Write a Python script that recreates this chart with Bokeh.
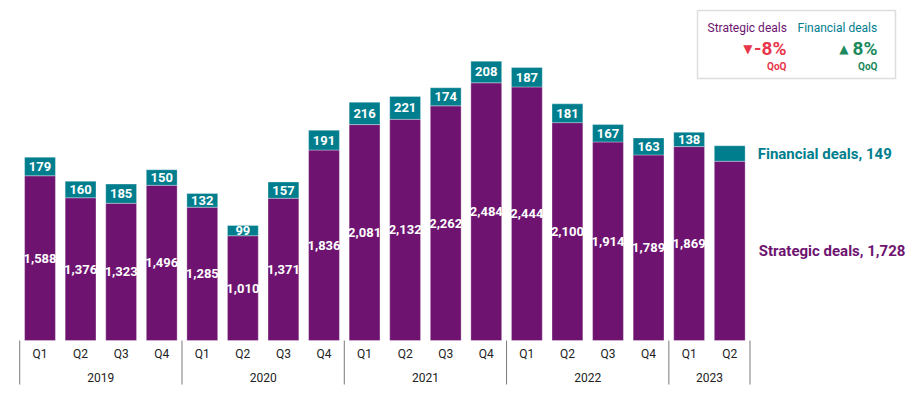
from bokeh.plotting import figure
from bokeh.models import ColumnDataSource, FactorRange, Range1d, Label
from bokeh.core.properties import value
from bokeh.embed import file_html
from bokeh.resources import INLINE

years = ["2019"] * 4 + ["2020"] * 4 + ["2021"] * 4 + ["2022"] * 4 + ["2023"] * 2
quarters = ["Q1", "Q2", "Q3", "Q4"] * 4 + ["Q1", "Q2"]
strategic = [1588, 1376, 1323, 1496, 1285, 1010, 1371, 1836, 2081, 2132,
             2262, 2484, 2444, 2100, 1914, 1789, 1869, 1728]
financial = [179, 160, 185, 150, 132, 99, 157, 191, 216, 221,
             174, 208, 187, 181, 167, 163, 138, 149]
year_labels = ["2019", "2020", "2021", "2022", "2023"]
legend_names = ["Strategic deals", "Financial deals"]
qoq_change = ["-8%", "8%"]

PURPLE = "#6e1470"
TEAL = "#007e8e"
RED = "#e8374c"
GREEN = "#1b8a5c"
FONT = "Roboto"
GRAY = "#7a7a7a"

factors = list(zip(years, quarters))
# empty space to the right of the bars (for the series labels and the legend box)
spacer = [("", " " * (i + 1)) for i in range(4)]
totals = [s + f for s, f in zip(strategic, financial)]

# ---- layout constants (pixels) ----
FW, FH, LEFT = 895, 394, 18
PAD = 0.03
SPAN = len(factors) + len(spacer) + 2 * PAD
Y0, Y1 = -520, 3277

def xp(px):  # page x -> synthetic x
    return -PAD + (px - LEFT) / FW * SPAN

def yp(py):  # page y -> data y
    return Y1 - py / FH * (Y1 - Y0)

src = ColumnDataSource(dict(x=factors, s=strategic, t=totals))
n = len(factors) - 1
lab = ColumnDataSource(dict(
    x=factors[:n],
    smid=[s / 2 for s in strategic[:n]],
    fmid=[s + f / 2 for s, f in zip(strategic[:n], financial[:n])],
    slab=[f"{s:,}" for s in strategic[:n]],
    flab=[str(f) for f in financial[:n]],
))

p = figure(
    x_range=FactorRange(*(factors + spacer), factor_padding=0, group_padding=0,
                        range_padding=PAD, range_padding_units="absolute"),
    y_range=Range1d(Y0, Y1),
    frame_width=FW, frame_height=FH,
    min_border_left=LEFT, min_border_right=0, min_border_top=0, min_border_bottom=0,
    output_backend="svg", toolbar_location=None, y_axis_location=None,
)
p.outline_line_color = None
p.xgrid.grid_line_color = None
p.ygrid.grid_line_color = None

p.vbar(x="x", top="s", bottom=0, width=0.76, source=src, fill_color=PURPLE,
       line_color="white", line_alpha=0.4, line_width=0.8)
p.vbar(x="x", top="t", bottom="s", width=0.76, source=src, fill_color=TEAL,
       line_color="white", line_alpha=0.4, line_width=0.8)

p.text(x="x", y="smid", text="slab", source=lab, text_color="white",
       text_font=value(FONT), text_font_style="bold", text_font_size="13px",
       text_align="center", text_baseline="middle")
p.text(x="x", y="fmid", text="flab", source=lab, text_color="white",
       text_font=value(FONT), text_font_style="bold", text_font_size="13px",
       text_align="center", text_baseline="middle")

ax = p.xaxis[0]
ax.fixed_location = 0
ax.axis_line_color = None
ax.major_tick_line_color = None
ax.major_tick_out = 0
ax.major_tick_in = 0
ax.minor_tick_line_color = None
ax.major_label_standoff = 6
ax.major_label_text_font = FONT
ax.major_label_text_font_size = "12px"
ax.major_label_text_color = "#222222"
ax.group_text_color = None
ax.separator_line_color = None

# year group labels and separators (positions from the category counts)
bounds = [0]
for yl in year_labels:
    bounds.append(bounds[-1] + years.count(yl))
centers = [(a + b) / 2 for a, b in zip(bounds[:-1], bounds[1:])]
p.text(x=centers, y=[yp(377)] * len(centers), text=year_labels,
       text_font=value(FONT), text_font_size="12px", text_color="#222222",
       text_align="center", text_baseline="middle")
p.segment(x0=bounds, y0=[0] * len(bounds), x1=bounds, y1=[yp(384)] * len(bounds),
          line_color=GRAY, line_width=1)

last = len(factors) - 0.5  # synthetic coordinate of the last category

# right side series labels
p.add_layout(Label(x=last, y=strategic[-1] + financial[-1] / 2, x_offset=28,
                   text=f"Financial deals, {financial[-1]}", text_color=TEAL,
                   text_font=FONT, text_font_style="bold", text_font_size="15px",
                   text_baseline="middle", text_align="left"))
p.add_layout(Label(x=last, y=strategic[-1] / 2, x_offset=29,
                   text=f"Strategic deals, {strategic[-1]:,}", text_color=PURPLE,
                   text_font=FONT, text_font_style="bold", text_font_size="15px",
                   text_baseline="middle", text_align="left"))

# legend box
p.quad(left=[xp(697)], right=[xp(895)], top=[yp(10)], bottom=[yp(78)],
       fill_color="white", line_color="#dddddd", line_width=1.5)

def lbl(px, py, text, color, size, bold=False, align="left", font=FONT):
    p.add_layout(Label(x=xp(px), y=yp(py), text=text, text_color=color,
                       text_font=font, text_font_style="bold" if bold else "normal",
                       text_font_size=size, text_baseline="middle", text_align=align))

lbl(707, 27, legend_names[0], PURPLE, "12px")
lbl(797, 27, legend_names[1], TEAL, "12px")
lbl(786, 48, qoq_change[0], RED, "19px", bold=True, align="right")
lbl(752, 48, "\u25bc", RED, "12px", align="right", font="DejaVu Sans")
lbl(786, 66, "QoQ", RED, "10px", bold=True, align="right")
lbl(877, 48, qoq_change[1], GREEN, "19px", bold=True, align="right")
lbl(848, 48, "\u25b2", GREEN, "12px", align="right", font="DejaVu Sans")
lbl(877, 66, "QoQ", GREEN, "10px", bold=True, align="right")

open("out.html", "w").write(file_html(p, INLINE))
